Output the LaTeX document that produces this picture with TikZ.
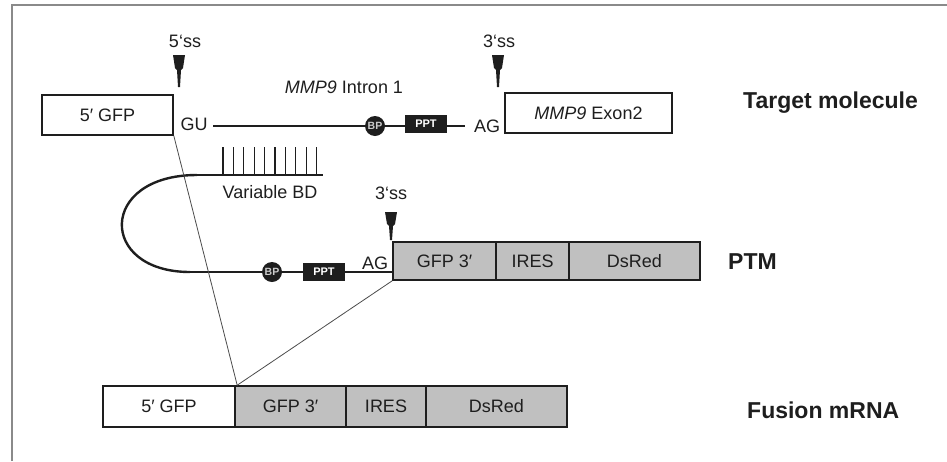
\documentclass[tikz,border=0pt]{standalone}
\usepackage{fontspec}
\setmainfont{Liberation Sans}
\definecolor{boxgray}{RGB}{192,192,192}
\definecolor{framegray}{RGB}{138,138,138}
\definecolor{ink}{RGB}{30,30,30}
\begin{document}
\begin{tikzpicture}[x=1pt,y=-1pt,
  box/.style={draw=ink, line width=1.6pt, inner sep=0pt, text=ink, font=\fontsize{18}{21}\selectfont},
  graybox/.style={box, fill=boxgray},
  lbl/.style={font=\fontsize{18}{21}\selectfont, inner sep=0pt, text=ink},
  biglbl/.style={font=\fontsize{23}{27}\selectfont\bfseries, inner sep=0pt, anchor=west, text=ink},
  strand/.style={draw=ink, line width=1.3pt},
  thinline/.style={draw=ink!80, line width=0.8pt},
  bpnode/.style={circle, fill=ink, minimum size=20pt, inner sep=0pt, text=white!80!black, font=\fontsize{10.5}{11}\selectfont\bfseries},
  pptnode/.style={fill=ink, minimum width=42pt, minimum height=18pt, inner sep=0pt, text=white, font=\fontsize{11}{12}\selectfont\bfseries},
  ssmark/.style={fill=ink}
]
\useasboundingbox (0,0) rectangle (947,461);
% frame
\draw[framegray, line width=2.4pt] (12,461) -- (12,5) -- (947,5);

% ---------- target molecule ----------
\node[box, minimum width=131pt, minimum height=40pt] (tgfp) at (107.5,115) {5′ GFP};
\node[lbl] (gu) at (194,124) {GU};
\coordinate (istart) at (213,126);
\coordinate (iend) at (465,126);
\draw[strand] (istart) -- (iend);
\node[bpnode] (tbp) at (375,126) {BP};
\node[pptnode] (tppt) at (426,124) {PPT};
\node[lbl] (tag) at (487,126) {AG};
\node[box, minimum width=167pt, minimum height=40pt] (exon) at (588.5,113) {\textit{MMP9} Exon2};
\node[lbl] (intron) at (344,87) {\textit{MMP9} Intron 1};
\node[lbl] (ss5) at (185,41) {5‘ss};
\node[lbl] (ss3a) at (499,41) {3‘ss};
\path[ssmark] (173,55) -- (185,55) -- (183,68) -- (181,70) -- (180,87) -- (178,87) -- (177,70) -- (175,68) -- cycle;
\path[ssmark] (492,55) -- (504,55) -- (502,68) -- (500,70) -- (499,87) -- (497,87) -- (496,70) -- (494,68) -- cycle;
\node[biglbl] (tm) at (743,103) {Target molecule};

% ---------- PTM ----------
\coordinate (combL) at (197,175);
\coordinate (combR) at (323,175);
\coordinate (loopB) at (190,272);
\draw[strand] (combL) -- (combR);
\foreach \i in {0,...,9} {
  \draw[ink, line width=1.3pt] (223+\i*10.4,147) -- (223+\i*10.4,175);
}
\draw[ink, line width=2.4pt] (combL) .. controls (98,175) and (98,272) .. (loopB);
\node[lbl] (vbd) at (270,192) {Variable BD};
\node[graybox, minimum width=103pt, minimum height=38pt] (pgfp) at (444.5,261) {GFP 3′};
\node[graybox, minimum width=73pt, minimum height=38pt] (pires) at (532.5,261) {IRES};
\node[graybox, minimum width=131pt, minimum height=38pt] (pred) at (634.5,261) {DsRed};
\coordinate (pend) at (393,272);
\draw[strand] (loopB) -- (pend);
\node[bpnode] (pbp) at (272,272) {BP};
\node[pptnode] (pppt) at (324,272) {PPT};
\node[lbl] (pag) at (375,263) {AG};
\node[lbl] (ss3b) at (391,193) {3‘ss};
\path[ssmark] (385,212) -- (397,212) -- (395,224) -- (393,226) -- (392,240) -- (390,240) -- (389,226) -- (387,224) -- cycle;
\node[biglbl] (ptm) at (728,262) {PTM};

% ---------- fusion mRNA ----------
\node[box, minimum width=132pt, minimum height=41pt] (fgfp5) at (169,406.5) {5′ GFP};
\node[graybox, minimum width=111pt, minimum height=41pt] (fgfp3) at (290.5,406.5) {GFP 3′};
\node[graybox, minimum width=80pt, minimum height=41pt] (fires) at (386,406.5) {IRES};
\node[graybox, minimum width=141pt, minimum height=41pt] (fred) at (496.5,406.5) {DsRed};
\node[biglbl] (fm) at (747,410) {Fusion mRNA};

% connectors
\draw[thinline] (tgfp.south east) -- ([xshift=3pt]fgfp3.north west);
\draw[thinline] (pgfp.south west) -- ([xshift=3pt]fgfp3.north west);
\end{tikzpicture}
\end{document}
